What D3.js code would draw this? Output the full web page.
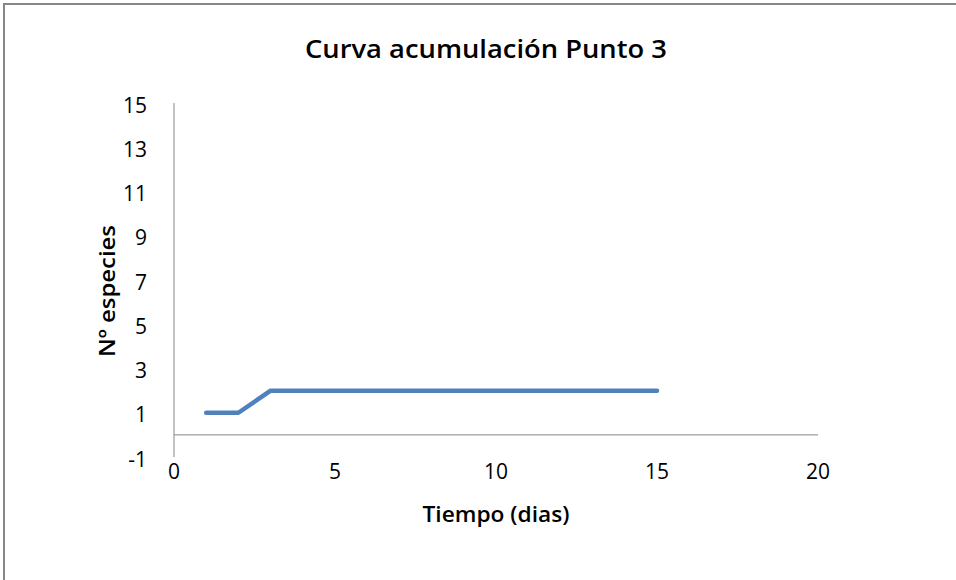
<!DOCTYPE html>
<html>
<head>
<meta charset="utf-8">
<script src="https://cdn.jsdelivr.net/npm/d3@7"></script>
<style>
  body { margin: 0; background: #fff; }
  svg { display: block; }
  text { font-family: "Open Sans", Lato, sans-serif; fill: #000; }
</style>
</head>
<body>
<div id="chart"></div>
<script>
// data
const dias = [1, 2, 3, 4, 5, 6, 7, 8, 9, 10, 11, 12, 13, 14, 15];
const especies = [1, 1, 2, 2, 2, 2, 2, 2, 2, 2, 2, 2, 2, 2, 2];
const xTicks = [0, 5, 10, 15, 20];
const yTicks = [-1, 1, 3, 5, 7, 9, 11, 13, 15];

const width = 956, height = 580;
const svg = d3.select("#chart").append("svg").attr("width", width).attr("height", height);

// chart frame (cropped: only left & top visible)
svg.append("path").attr("d", `M4,${height} V4 H${width}`)
  .attr("fill", "none").attr("stroke", "#888").attr("stroke-width", 2);

const x = d3.scaleLinear().domain([0, 20]).range([174, 818]);
const y = d3.scaleLinear().domain([-1, 15]).range([457, 103]);

// axes lines
svg.append("line").attr("x1", x(0)).attr("x2", x(0)).attr("y1", y(15)).attr("y2", y(-1))
  .attr("stroke", "#868686").attr("stroke-width", 1);
svg.append("line").attr("x1", x(0)).attr("x2", x(20)).attr("y1", y(0)).attr("y2", y(0))
  .attr("stroke", "#868686").attr("stroke-width", 1);

// tick labels
svg.append("g").selectAll("text").data(yTicks).join("text")
  .attr("x", 147).attr("y", d => y(d) + 2).attr("dy", "0.36em")
  .attr("text-anchor", "end").attr("font-size", 21).text(d => d);
svg.append("g").selectAll("text").data(xTicks).join("text")
  .attr("x", d => x(d)).attr("y", 479)
  .attr("text-anchor", "middle").attr("font-size", 21).text(d => d);

// series
const pts = dias.map((d, i) => [d, especies[i]]);
svg.append("path").datum(pts)
  .attr("d", d3.line().x(d => x(d[0])).y(d => y(d[1])))
  .attr("fill", "none").attr("stroke", "#4f81bd").attr("stroke-width", 4.5)
  .attr("stroke-linecap", "round").attr("stroke-linejoin", "round");

// titles
svg.append("text").attr("x", 486).attr("y", 58).attr("text-anchor", "middle")
  .attr("font-size", 25).attr("font-weight", 600)
  .attr("textLength", 362).attr("lengthAdjust", "spacingAndGlyphs")
  .text("Curva acumulación Punto 3");
svg.append("text").attr("x", 496).attr("y", 522).attr("text-anchor", "middle")
  .attr("font-size", 22).attr("font-weight", 600)
  .attr("textLength", 147).attr("lengthAdjust", "spacingAndGlyphs")
  .text("Tiempo (dias)");
svg.append("text").attr("transform", "translate(115,291) rotate(-90)").attr("text-anchor", "middle")
  .attr("font-size", 22).attr("font-weight", 600)
  .attr("textLength", 132).attr("lengthAdjust", "spacingAndGlyphs")
  .text("Nº especies");
</script>
</body>
</html>
